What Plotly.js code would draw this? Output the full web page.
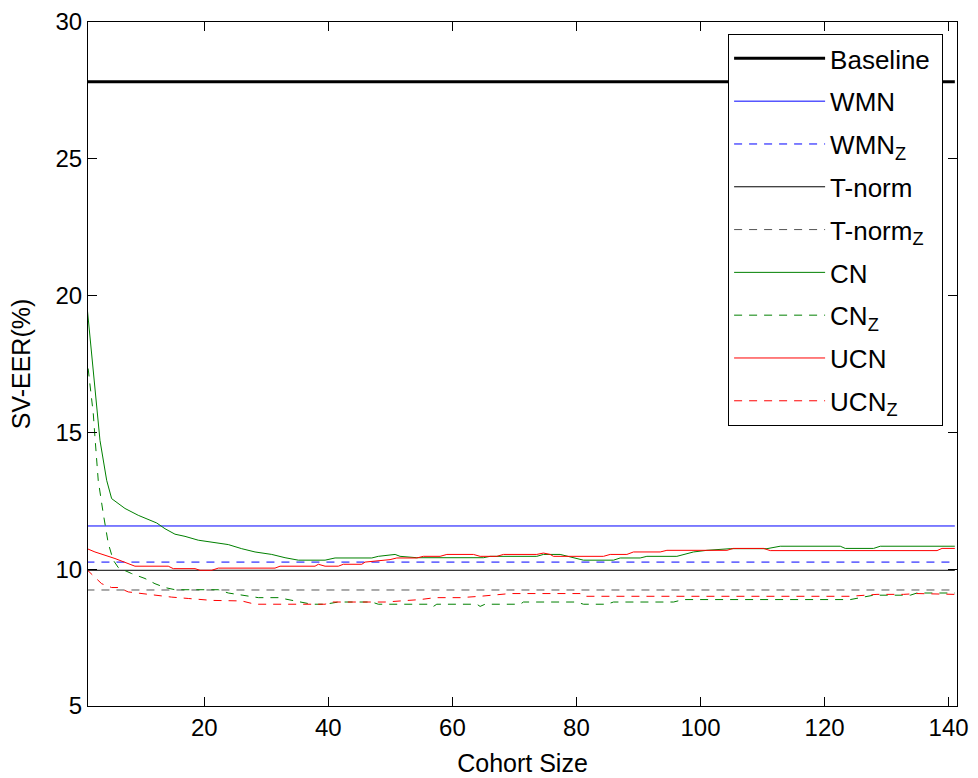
<!DOCTYPE html>
<html>
<head>
<meta charset="utf-8">
<script src="https://cdn.plot.ly/plotly-3.0.1.min.js"></script>
<style>html,body{margin:0;padding:0;background:#fff;}#chart{width:978px;height:778px;}</style>
</head>
<body>
<div id="chart"></div>
<script>
// Constant-level methods (SV-EER %)
const xSpan = [1, 141];
const baselineEER = 27.82;
const wmnEER = 11.58;
const wmnZEER = 10.26;
const tnormEER = 9.96;
const tnormZEER = 9.24;

// CN
const cnX = [1, 3.18, 4.26, 5.06, 7.21, 9.35, 12.32, 13.66, 15.27, 16.89, 19.03, 21.19, 23.87, 26.03, 28.18, 30.87, 33.02, 35.16, 39.47, 41.08, 47.0, 48.06, 50.76, 51.56, 54.26, 65.0, 66.08, 73.6, 74.68, 77.37, 79.52, 81.13, 85.97, 87.05, 90.27, 91.35, 96.19, 97.26, 98.87, 101.03, 104.79, 110.71, 112.85, 122.53, 123.34, 127.9, 128.98, 141];
const cnY = [19.83, 14.71, 13.25, 12.58, 12.22, 11.97, 11.69, 11.48, 11.28, 11.20, 11.06, 10.98, 10.90, 10.75, 10.63, 10.54, 10.42, 10.33, 10.33, 10.41, 10.41, 10.47, 10.54, 10.47, 10.42, 10.42, 10.47, 10.47, 10.54, 10.54, 10.42, 10.33, 10.33, 10.41, 10.41, 10.47, 10.47, 10.54, 10.63, 10.69, 10.75, 10.75, 10.84, 10.84, 10.76, 10.76, 10.84, 10.84];

// CN_Z
const cnZX = [1, 2.1, 2.37, 2.9, 3.71, 4.52, 5.32, 6.13, 8.29, 10.44, 12.05, 13.66, 15.27, 22.26, 23.87, 26.03, 28.71, 31.94, 34.1, 37.32, 39.47, 41.61, 47.0, 48.06, 56.4, 56.94, 57.48, 63.94, 64.47, 65.27, 70.92, 71.45, 80.06, 81.13, 84.9, 85.97, 95.65, 97.26, 124.15, 125.76, 127.9, 133.82, 134.9, 141];
const cnZY = [17.88, 15.69, 14.83, 13.25, 12.03, 10.94, 10.33, 10.06, 9.84, 9.66, 9.47, 9.33, 9.25, 9.25, 9.13, 9.05, 8.96, 8.96, 8.86, 8.72, 8.72, 8.80, 8.80, 8.72, 8.72, 8.64, 8.72, 8.72, 8.64, 8.72, 8.72, 8.80, 8.80, 8.72, 8.72, 8.80, 8.80, 8.89, 8.89, 8.96, 9.05, 9.05, 9.13, 9.13];

// UCN
const ucnX = [1, 2.37, 5.6, 8.82, 14.19, 15.0, 18.5, 19.31, 21.19, 22.26, 31.4, 32.21, 37.85, 38.39, 39.47, 41.61, 42.42, 45.39, 45.92, 48.34, 49.95, 51.03, 54.26, 55.32, 58.02, 59.1, 63.39, 64.47, 67.16, 68.23, 73.6, 74.68, 75.76, 76.29, 84.35, 85.44, 88.13, 89.19, 93.5, 94.58, 104.26, 105.32, 110.16, 111.24, 138.13, 138.94, 141];
const ucnY = [10.76, 10.63, 10.39, 10.11, 10.11, 10.02, 10.02, 9.96, 9.96, 10.04, 10.04, 10.11, 10.11, 10.18, 10.11, 10.11, 10.18, 10.18, 10.26, 10.30, 10.35, 10.41, 10.41, 10.47, 10.47, 10.54, 10.54, 10.47, 10.47, 10.54, 10.54, 10.59, 10.54, 10.47, 10.47, 10.54, 10.54, 10.63, 10.63, 10.69, 10.69, 10.76, 10.76, 10.68, 10.68, 10.76, 10.76];

// UCN_Z
const ucnZX = [1, 3.45, 5.06, 6.13, 7.74, 9.9, 12.58, 14.74, 17.42, 21.19, 26.03, 28.18, 39.47, 40.55, 49.15, 52.1, 54.79, 57.21, 61.24, 64.47, 66.89, 69.31, 80.6, 81.13, 124.15, 128.45, 132.74, 134.9, 141];
const ucnZY = [10.0, 9.47, 9.33, 9.33, 9.17, 9.11, 9.02, 8.98, 8.93, 8.86, 8.84, 8.72, 8.72, 8.80, 8.80, 8.84, 8.89, 8.96, 8.96, 9.01, 9.05, 9.11, 9.11, 9.01, 9.01, 9.08, 9.08, 9.11, 9.08];

const xTicks = [20, 40, 60, 80, 100, 120, 140];
const yTicks = [5, 10, 15, 20, 25, 30];

const names = ['Baseline&nbsp;', 'WMN', 'WMN<sub>Z</sub>', 'T-norm', 'T-norm<sub>Z</sub>', 'CN', 'CN<sub>Z</sub>', 'UCN', 'UCN<sub>Z</sub>'];

const DASH = '8px,7px';
function flat(v) { return [v, v]; }
function tr(name, x, y, color, width, dash, gi) {
  return {x: x, y: y, type: 'scatter', mode: 'lines', name: name,
    legendgroup: 'g' + gi,
    line: {color: color, width: width, dash: dash || 'solid'}, hoverinfo: 'skip'};
}

const traces = [
  tr(names[0], xSpan, flat(baselineEER), '#000000', 3, null, 0),
  tr(names[1], xSpan, flat(wmnEER), '#0000ff', 1, null, 1),
  tr(names[2], xSpan, flat(wmnZEER), '#0000ff', 1, DASH, 2),
  tr(names[3], xSpan, flat(tnormEER), '#000000', 1, null, 3),
  tr(names[4], xSpan, flat(tnormZEER), '#555555', 1, DASH, 4),
  tr(names[5], cnX, cnY, '#008000', 1, null, 5),
  tr(names[6], cnZX, cnZY, '#008000', 1, DASH, 6),
  tr(names[7], ucnX, ucnY, '#ff0000', 1, null, 7),
  tr(names[8], ucnZX, ucnZY, '#ff0000', 1, DASH, 8)
];

const FONT = 'Liberation Sans, Arial, sans-serif';
const layout = {
  width: 978, height: 778,
  margin: {l: 88, r: 21, t: 22, b: 72, pad: 0},
  paper_bgcolor: '#ffffff', plot_bgcolor: '#ffffff',
  font: {family: FONT, color: '#000000', size: 24},
  showlegend: true,
  legend: {
    x: 0.984, y: 0.9825, xanchor: 'right', yanchor: 'top',
    bgcolor: '#ffffff', bordercolor: '#000000', borderwidth: 1,
    font: {family: FONT, size: 26, color: '#000000'},
    itemwidth: 91,
    tracegroupgap: 6, traceorder: 'grouped'
  },
  xaxis: {
    range: [1.25, 141.35], tickvals: xTicks, ticktext: xTicks.map(String),
    ticks: 'inside', ticklen: 9, tickwidth: 1, tickcolor: '#000000',
    showline: true, linecolor: '#000000', linewidth: 1, mirror: 'ticks',
    showgrid: false, zeroline: false,
    tickfont: {family: FONT, size: 24, color: '#000000'},
    title: {text: 'Cohort Size', font: {family: FONT, size: 25, color: '#000000'}, standoff: 14}
  },
  yaxis: {
    range: [5, 30], tickvals: yTicks, ticktext: yTicks.map(String),
    ticks: 'inside', ticklen: 9, tickwidth: 1, tickcolor: '#000000',
    showline: true, linecolor: '#000000', linewidth: 1, mirror: 'ticks',
    showgrid: false, zeroline: false,
    tickfont: {family: FONT, size: 24, color: '#000000'},
    title: {text: 'SV-EER(%)', font: {family: FONT, size: 25, color: '#000000'}, standoff: 17}
  }
};

Plotly.newPlot('chart', traces, layout, {displayModeBar: false, staticPlot: true});
</script>
</body>
</html>
